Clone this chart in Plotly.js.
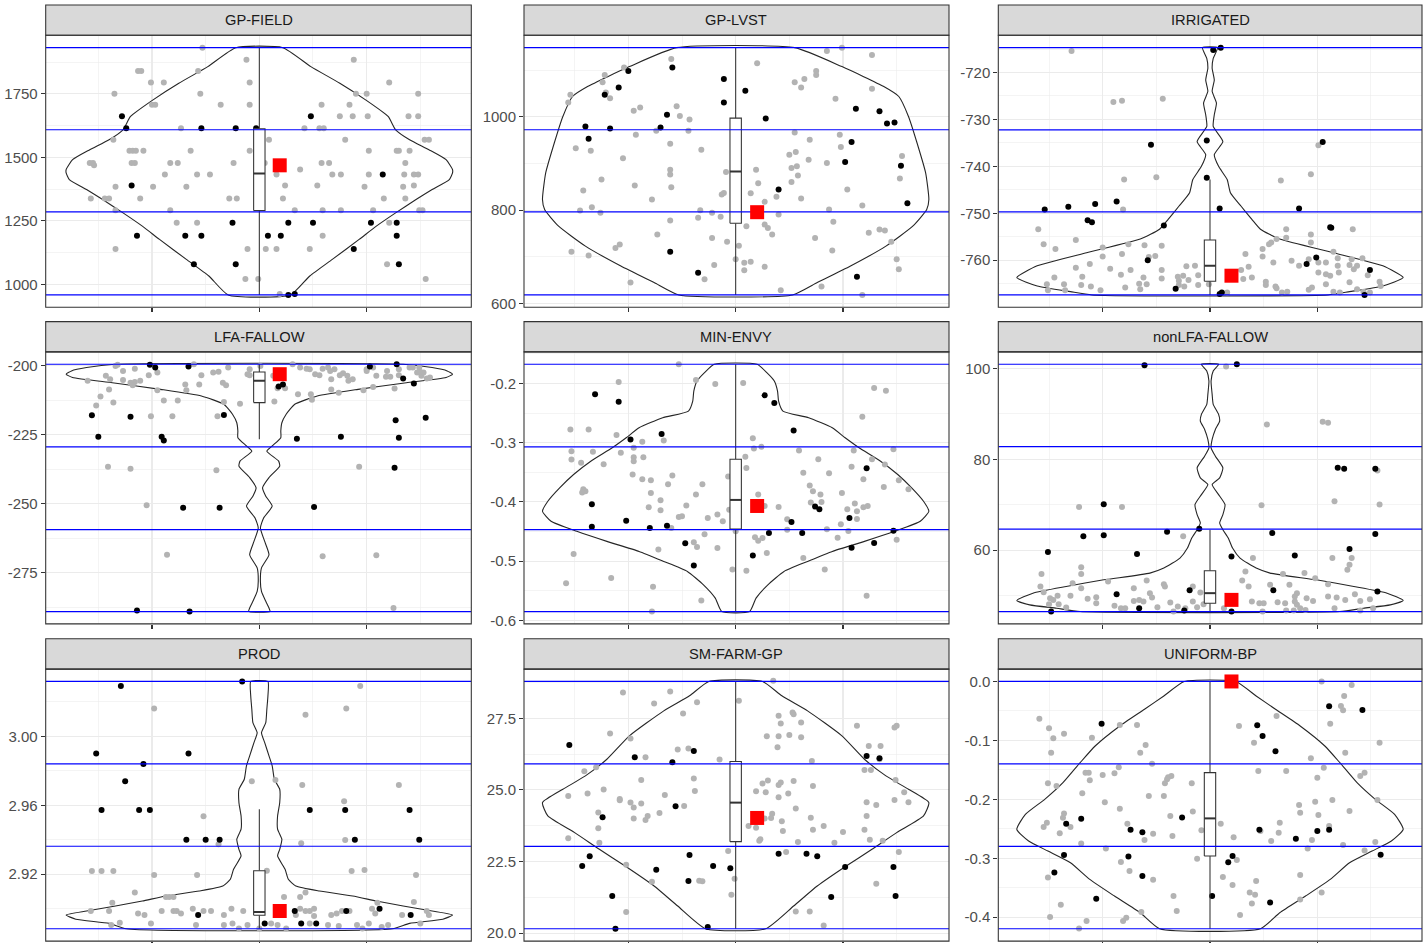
<!DOCTYPE html>
<html><head><meta charset="utf-8">
<script src="https://cdn.plot.ly/plotly-3.0.1.min.js"></script>
<style>html,body{margin:0;padding:0;background:#fff}#chart{width:1423px;height:943px}</style>
</head><body><div id="chart"></div>
<script>
// ---------------- DATA ----------------
const panelNames = ['GP-FIELD','GP-LVST','IRRIGATED','LFA-FALLOW','MIN-ENVY','nonLFA-FALLOW','PROD','SM-FARM-GP','UNIFORM-BP'];

// GP-FIELD
const gpFieldGrayX = [-0.53,-0.12,0.88,-1.13,-1.10,-0.57,-1.01,-0.89,-0.09,1.21,-1.35,-0.55,0.90,1.00,1.48,-1.00,-0.97,-0.36,-0.09,0.58,0.84,0.75,0.87,1.01,1.39,1.48,-0.73,0.42,0.56,0.60,-1.36,0.09,0.80,1.54,1.58,-1.21,-1.18,-1.15,-1.08,-0.64,-0.09,1.02,1.28,1.30,1.40,-1.58,-1.55,-1.54,-1.19,-1.16,-0.83,-0.76,-0.24,0.05,0.58,0.65,1.36,-0.88,-0.58,-0.46,0.16,0.38,0.68,0.76,1.02,1.35,1.44,1.48,-1.34,-0.99,-0.68,0.24,0.54,0.98,1.34,1.44,-1.57,-1.44,-1.40,-1.11,-0.28,-0.21,0.22,1.16,1.36,-1.34,-0.83,0.33,0.59,0.76,1.06,1.49,1.52,-0.77,-0.58,1.21,0.59,-1.34,-0.11,0.06,0.16,0.47,1.19,-0.13,-0.01,1.55,0.19];
const gpFieldGrayY = [1932,1884,1884,1840,1840,1840,1795,1795,1795,1795,1750,1750,1750,1750,1750,1707,1707,1707,1707,1707,1707,1662,1662,1662,1662,1662,1615,1615,1615,1615,1569,1569,1569,1569,1569,1526,1526,1526,1526,1526,1526,1526,1526,1526,1526,1478,1478,1469,1478,1478,1478,1478,1478,1478,1478,1478,1478,1432,1432,1432,1432,1452,1432,1432,1432,1432,1432,1432,1384,1384,1384,1389,1389,1384,1384,1389,1338,1338,1338,1338,1338,1338,1338,1338,1338,1292,1292,1292,1292,1292,1292,1292,1292,1242,1242,1242,1191,1139,1139,1139,1139,1139,1079,1021,1021,1021,962];
const gpFieldBlackX = [-1.28,-1.24,-0.54,-0.22,-0.03,0.48,-1.19,1.15,-0.25,0.27,0.50,1.04,1.28,-1.14,-0.69,-0.54,0.08,0.20,1.28,0.88,-0.61,-0.22,1.30,0.27,0.33];
const gpFieldBlackY = [1662,1615,1615,1615,1615,1662,1389,1432,1242,1242,1242,1242,1242,1191,1191,1191,1191,1191,1191,1139,1079,1079,1079,958,962];
const gpFieldViolinY = [1932,1857.4,1791.9,1726.5,1661.0,1608.6,1569.4,1530.1,1490.8,1451.6,1438.5,1412.3,1373.0,1333.8,1281.4,1229.1,1176.7,1098.1,1032.7,958.1];
const gpFieldViolinW = [0.22,0.48,0.75,0.99,1.20,1.27,1.40,1.58,1.74,1.80,1.80,1.77,1.61,1.46,1.27,1.09,0.93,0.68,0.47,0.29];
const gpFieldBox = [958.1,1290.6,1435.9,1612.6,1932];   // lower, q1, median, q3, upper
const gpFieldRef = [0.19,1468.6];
const gpFieldLines = [958.1,1285.3,1608.6,1932.0];
const gpFieldTicks = [1000,1250,1500,1750];
const gpFieldTickText = ['1000','1250','1500','1750'];
const gpFieldMinor = [1125,1375,1625,1875];

// GP-LVST
const gpLvstGrayX = [0.85,0.99,1.27,-0.60,0.20,-1.04,-1.22,0.75,0.75,-1.24,0.55,0.64,0.61,1.27,-1.54,-1.56,-1.21,-1.17,0.93,-0.95,-0.89,-0.55,-0.52,-0.43,-0.74,-0.44,-0.93,0.55,0.69,0.97,-0.61,0.98,-1.49,-1.35,-0.32,0.56,0.50,-1.05,0.68,0.85,-0.61,-0.61,0.19,-0.09,1.55,1.53,0.52,0.57,0.58,0.21,0.52,-0.94,-1.25,-0.60,-1.42,1.04,-0.11,-0.13,0.14,0.38,0.61,-0.78,0.27,1.18,-1.45,-1.34,-1.26,-0.33,-0.22,-0.14,-0.35,-0.61,0.87,0.91,0.40,0.10,0.27,0.30,0.34,1.24,1.34,1.39,1.45,-0.73,-0.22,-0.08,0.74,0.03,-1.53,-1.37,-1.12,-1.08,0.90,0.00,0.08,0.14,0.08,0.27,-0.20,1.50,1.52,-0.98,-0.29,0.42,0.80,1.18];
const gpLvstGrayY = [1140.9,1148,1132.4,1123.8,1114.6,1105.3,1089.7,1098.2,1089.7,1074.0,1074.0,1081.1,1062.6,1059.8,1047.0,1030.6,1051.9,1039.8,1038.4,1012.8,1019.9,1022.8,1001.4,994.3,970.1,970.1,961.6,966.5,950.9,961.6,942.3,935.2,932.4,927.4,929.5,924.5,918.9,911.0,908.2,901.1,886.8,876.2,886.8,881.8,916.0,867.6,890.4,893.9,874.0,857.6,860.5,852.7,865.5,849.1,842.0,844.1,837.0,833.4,836.3,828.5,824.9,822.8,817.8,810.0,799.3,806.4,794.3,800.0,794.3,785.8,783.6,777.9,801.4,775.1,790.7,765.8,769.4,761.6,748.0,751.6,758.7,756.6,732.4,748.0,740.2,732.4,740.2,723.8,711.0,703.2,718.9,726.7,713.9,694.7,687.6,689.7,671.2,679.0,682.6,694.7,673.3,644.9,651.9,628.5,636.3,618.5];
const gpLvstBlackX = [-1.00,-0.59,-0.11,-1.09,-1.22,0.09,-0.11,-0.64,-1.40,-0.70,-1.17,-1.37,0.28,1.12,1.34,1.41,1.48,1.08,1.02,1.54,0.40,1.60,-0.61,-0.35,1.13];
const gpLvstBlackY = [1098.2,1105.3,1081.1,1062.6,1047.0,1055.5,1030.6,1004.3,979.3,977.2,975.1,953.0,996.4,1017.1,1012.1,985.8,987.9,945.9,903.2,895.4,844.1,814.9,711.0,666.2,657.7];
const gpLvstViolinY = [1148,1107.4,1064.7,1043.4,1000.7,943.8,879.7,822.8,801.4,765.8,723.1,680.4,644.9,618.5];
const gpLvstViolinW = [0.55,0.99,1.38,1.52,1.61,1.69,1.77,1.80,1.78,1.65,1.40,1.07,0.76,0.53];
const gpLvstBox = [618.5,772.2,882.6,997.1,1148];
const gpLvstRef = [0.20,795.7];
const gpLvstLines = [618.5,796.4,972.2,1148];
const gpLvstTicks = [600,800,1000];
const gpLvstTickText = ['600','800','1000'];
const gpLvstMinor = [700,900,1100];

// IRRIGATED
const irrGrayX = [-1.29,-0.90,-0.82,-0.44,1.01,-0.50,-0.80,0.94,0.66,-0.81,-1.60,0.71,1.33,0.94,-1.55,-1.25,-1.44,-0.76,-0.61,-0.45,-1.00,0.71,0.62,0.57,0.55,0.49,-1.00,-0.82,-0.51,0.33,0.49,0.94,0.92,1.01,1.15,1.19,1.32,1.42,-1.25,-1.12,-0.93,-0.74,-0.45,-0.22,-0.14,-0.57,0.29,0.36,0.59,0.76,0.83,1.08,1.19,1.30,1.37,-1.19,-0.83,-0.62,-0.45,-0.30,-0.25,-0.11,0.31,0.39,1.01,1.08,1.12,1.20,1.34,1.47,-1.52,-1.45,-1.36,-1.20,-1.11,-1.02,-0.79,-0.66,-0.59,-0.65,-1.51,-1.35,-0.29,-0.11,-0.01,0.16,0.52,0.52,0.62,0.67,0.72,0.95,0.92,1.08,1.15,1.30,1.37,1.58,1.59,1.49,1.43,1.21,-0.24,-0.20,-0.29,0.61];
const irrGrayY = [-715.4,-726.3,-726.0,-725.6,-735.5,-742.3,-742.8,-741.7,-743.0,-749.2,-753.4,-753.4,-753.4,-754.5,-756.6,-755.7,-757.6,-756.6,-756.8,-756.9,-757.3,-755.2,-755.5,-756.2,-756.6,-757.6,-759.2,-758.7,-759.1,-758.7,-759.2,-756.2,-759.8,-760.5,-758.2,-759.6,-759.8,-759.6,-761.6,-760.8,-761.8,-762.1,-762.1,-761.3,-761.2,-759.3,-762.1,-761.4,-760.5,-760.1,-761.2,-760.5,-761.2,-761.0,-761.2,-763.5,-763.1,-763.7,-763.9,-763.5,-763.3,-763.2,-764.0,-763.7,-762.6,-763.0,-763.3,-762.6,-761.9,-763.2,-765.1,-763.7,-765.1,-765.3,-765.6,-766.4,-765.8,-765.0,-765.1,-766.2,-766.4,-766.4,-765.3,-765.3,-765.1,-766.9,-764.6,-765.3,-766.0,-766.9,-766.7,-765.8,-766.3,-765.1,-766.7,-764.7,-766.2,-764.6,-765.5,-766.9,-766.7,-766.9,-765.6,-764.2,-764.4,-765.6];
const irrBlackX = [0.03,0.10,-0.55,-0.03,1.05,-0.03,-1.54,-1.32,-1.07,-0.87,-1.14,-1.10,0.83,0.09,-0.43,1.12,1.13,-0.58,0.99,0.90,1.49,-0.32,0.09,0.11,1.44];
const irrBlackY = [-715.2,-714.7,-735.4,-734.5,-734.8,-742.4,-749.2,-748.6,-748.0,-747.5,-751.5,-751.9,-749.0,-749.0,-752.6,-753.0,-753.1,-760.0,-759.4,-760.8,-762.1,-766.1,-767.2,-766.9,-767.4];
const irrViolinY = [-714.7,-717.0,-719.1,-721.6,-724.0,-726.5,-729.0,-731.5,-734.7,-737.5,-740.0,-742.8,-745.6,-748.5,-751.3,-753.4,-755.5,-758.4,-761.2,-763.7,-765.5,-766.7,-767.4];
const irrViolinW = [0.07,0.03,0.02,0.04,0.02,0.06,0.04,0.03,0.12,0.04,0.08,0.16,0.19,0.29,0.39,0.47,0.65,1.15,1.61,1.80,1.61,1.30,1.10];
const irrBox = [-767.4,-764.5,-761.2,-755.7,-742.8];
const irrRef = [0.20,-763.3];
const irrLines = [-767.4,-749.7,-732.2,-714.7];
const irrTicks = [-760,-750,-740,-730,-720];
const irrTickText = ['-760','-750','-740','-730','-720'];
const irrMinor = [-765,-755,-745,-735,-725,-715];

// LFA-FALLOW
const lfaGrayX = [-1.34,-1.32,-1.27,-1.16,-1.03,-0.95,-1.43,-1.39,-1.60,-1.27,-1.20,-1.16,-1.11,-1.18,-1.40,-1.48,-1.52,-1.36,-0.95,-0.89,-0.76,-1.01,-0.81,-0.69,-0.68,-0.61,-0.54,-0.56,-0.43,-0.38,-0.29,-0.34,-0.31,-0.33,-0.18,-0.39,-0.11,-0.09,0.01,-0.09,0.13,0.17,0.14,0.31,0.38,0.44,0.47,0.36,0.48,0.49,0.64,0.66,0.70,0.75,0.78,0.82,0.67,0.83,0.87,0.67,0.74,0.97,1.06,1.00,1.09,1.19,1.22,1.26,1.30,1.40,1.49,1.51,1.56,1.59,1.50,1.43,0.52,0.59,0.56,1.00,1.06,1.18,1.30,1.47,1.53,0.24,-1.41,-1.20,-0.40,0.93,-1.05,-0.86,0.59,1.09,1.25];
const lfaGrayY = [-200.0,-199.6,-201.8,-201.0,-203.4,-202.4,-203.6,-204.8,-205.4,-205.1,-206.1,-205.8,-205.4,-207.0,-208.5,-211.1,-214.3,-213.3,-208.8,-212.5,-212.5,-218.2,-218.2,-206.7,-208.8,-199.4,-203.4,-206.7,-202.4,-202.1,-200.6,-206.1,-207.0,-213.1,-213.7,-218.2,-203.0,-201.2,-200.0,-203.4,-203.6,-208.1,-212.9,-199.4,-200.6,-201.0,-201.2,-210.3,-210.3,-212.3,-200.6,-201.8,-201.2,-203.4,-202.7,-203.6,-204.8,-205.4,-204.8,-208.5,-209.7,-208.8,-207.6,-201.2,-203.6,-201.8,-203.9,-208.2,-203.4,-200.6,-200.6,-203.6,-204.6,-204.2,-202.2,-200.6,-203.0,-201.0,-203.4,-201.8,-200.6,-203.9,-201.2,-202.4,-202.4,-208.1,-236.5,-237.3,-237.8,-236.5,-250.5,-268.4,-269.0,-268.6,-287.7];
const lfaBlackX = [-1.02,-0.97,-0.66,1.03,1.28,1.34,1.44,0.18,0.22,-1.56,-1.20,-0.33,-1.50,-0.91,-0.89,0.35,0.76,1.30,1.27,1.55,1.26,-0.71,-0.37,0.51,-1.14,-0.65];
const lfaBlackY = [-199.6,-200.6,-200.2,-200.2,-199.4,-204.6,-206.4,-207.5,-206.7,-217.9,-218.4,-217.8,-225.7,-225.7,-227.0,-226.4,-225.7,-226.0,-219.7,-218.8,-236.9,-251.4,-251.4,-251.1,-288.6,-289.0];
const lfaViolinY = [-199.4,-200.6,-201.8,-203.0,-204.2,-206.1,-208.5,-210.9,-213.9,-217.5,-220.6,-223.6,-226.0,-229.0,-230.9,-234.5,-236.3,-240.5,-244.2,-247.2,-250.8,-255.1,-258.7,-263.6,-268.4,-273.2,-278.0,-281.7,-285.3,-287.7,-289.0];
const lfaViolinW = [1.34,1.61,1.75,1.80,1.74,1.37,0.92,0.54,0.33,0.25,0.21,0.20,0.20,0.12,0.07,0.18,0.19,0.09,0.03,0.06,0.12,0.04,0.01,0.05,0.09,0.02,0.01,0.02,0.06,0.09,0.10];
const lfaBox = [-226.6,-213.3,-205.4,-202.2,-199.4];
const lfaRef = [0.19,-203.0];
const lfaLines = [-289.0,-259.3,-229.3,-199.4];
const lfaTicks = [-275,-250,-225,-200];
const lfaTickText = ['-275','-250','-225','-200'];
const lfaMinor = [-287.5,-262.5,-237.5,-212.5];

// MIN-ENVY
const minEnvyGrayX = [-0.53,-1.09,-0.37,-0.19,0.07,1.29,1.40,1.18,-1.54,-1.37,-1.11,-0.67,-0.87,0.16,-0.95,0.24,0.17,-1.53,-1.53,-1.33,-1.07,-0.95,-0.95,-0.86,-1.44,-1.23,0.59,1.10,1.47,0.77,1.27,0.09,0.10,1.39,-0.96,-0.87,-0.79,-0.59,-0.07,0.63,0.87,1.08,1.19,1.52,1.61,1.38,-0.63,-0.31,-0.37,-0.79,-0.70,-1.42,-1.40,-1.43,0.69,0.72,0.79,0.70,0.80,0.99,0.21,0.27,0.40,1.04,1.11,1.13,1.19,1.23,1.13,-0.81,-0.70,-0.46,-0.53,-0.50,-0.26,-0.17,-0.12,-0.06,-0.60,0.48,0.48,0.85,0.98,1.05,0.95,1.50,-0.39,-0.36,-0.17,-0.29,0.18,0.21,0.25,0.29,0.63,0.83,-1.51,-0.72,-0.03,0.10,-1.58,-1.16,-0.77,-0.32,-0.78,1.22,0.00];
const minEnvyGrayY = [-0.1676,-0.1975,-0.1941,-0.2009,-0.1992,-0.2077,-0.2122,-0.2562,-0.2776,-0.2776,-0.2872,-0.2962,-0.2985,-0.2923,-0.3086,-0.3069,-0.3098,-0.3143,-0.3284,-0.3154,-0.3171,-0.3244,-0.3312,-0.3244,-0.3340,-0.3363,-0.3131,-0.3131,-0.3109,-0.3278,-0.3278,-0.3239,-0.3425,-0.3368,-0.3537,-0.3616,-0.3633,-0.3554,-0.3571,-0.3509,-0.3515,-0.3408,-0.3616,-0.3633,-0.3786,-0.3746,-0.3701,-0.3701,-0.3876,-0.3848,-0.3972,-0.3786,-0.3820,-0.3842,-0.3724,-0.3820,-0.3876,-0.4011,-0.4000,-0.3848,-0.3876,-0.4068,-0.4085,-0.4124,-0.4028,-0.4158,-0.4090,-0.4068,-0.4288,-0.4090,-0.4141,-0.4062,-0.4254,-0.4243,-0.4271,-0.4214,-0.4327,-0.4130,-0.4440,-0.4293,-0.4468,-0.4462,-0.4378,-0.4491,-0.4603,-0.4637,-0.4682,-0.4761,-0.4778,-0.4547,-0.4598,-0.4654,-0.4609,-0.4863,-0.4948,-0.5139,-0.4880,-0.4801,-0.5139,-0.5162,-0.5371,-0.5286,-0.5433,-0.5664,-0.5850,-0.5585,-0.4496];
const minEnvyBlackX = [-1.31,-1.09,-0.98,-0.69,0.27,0.36,0.54,1.22,-1.34,-1.34,-1.02,-0.80,-0.64,0.74,0.78,1.06,0.52,-0.47,-0.39,0.31,0.62,0.16,1.08,1.29,1.47];
const minEnvyBlackY = [-0.2184,-0.2308,-0.2945,-0.2855,-0.2201,-0.2331,-0.2793,-0.3430,-0.4039,-0.4417,-0.4316,-0.4440,-0.4400,-0.4079,-0.4124,-0.4271,-0.4338,-0.4699,-0.5072,-0.4525,-0.4525,-0.4902,-0.4773,-0.4694,-0.4485];
const minEnvyViolinY = [-0.1676,-0.1817,-0.1958,-0.2128,-0.2297,-0.2466,-0.2579,-0.2748,-0.2917,-0.3086,-0.3312,-0.3537,-0.3763,-0.3989,-0.4158,-0.4327,-0.4496,-0.4666,-0.4835,-0.5004,-0.5173,-0.5399,-0.5624,-0.5850];
const minEnvyViolinW = [0.20,0.29,0.36,0.39,0.40,0.44,0.68,0.90,1.02,1.15,1.35,1.51,1.64,1.75,1.80,1.72,1.48,1.20,0.90,0.67,0.45,0.30,0.19,0.13];
const minEnvyBox = [-0.585,-0.4457,-0.3966,-0.3278,-0.1676];
const minEnvyRef = [0.20,-0.4068];
const minEnvyLines = [-0.585,-0.4468,-0.3069,-0.1676];
const minEnvyTicks = [-0.6,-0.5,-0.4,-0.3,-0.2];
const minEnvyTickText = ['-0.6','-0.5','-0.4','-0.3','-0.2'];
const minEnvyMinor = [-0.55,-0.45,-0.35,-0.25,-0.15];

// nonLFA-FALLOW
const nonLfaGrayX = [0.15,0.53,1.05,1.10,1.16,0.48,1.58,1.56,-1.22,-0.82,-0.25,0.40,1.14,1.32,1.30,1.28,-1.57,-1.20,-1.20,-1.58,-1.55,-1.28,-1.20,-0.95,-0.59,-0.71,-0.43,-0.42,0.33,0.30,0.36,0.68,0.88,0.98,1.10,0.56,0.74,0.81,0.90,-0.16,-0.09,-1.49,-1.46,-1.42,-1.30,-1.50,-1.41,-1.34,-1.14,-1.06,-1.06,-0.89,-0.83,-0.79,-0.71,-0.66,-0.62,-0.56,-0.54,-0.49,-0.37,-0.30,-0.34,-0.23,-0.16,-0.12,-0.06,0.13,0.39,0.46,0.50,0.49,0.63,0.71,0.70,0.79,0.81,0.84,0.89,0.96,1.10,1.18,1.26,1.35,1.40,1.49,1.52,1.16,1.40,0.78,0.79];
const nonLfaGrayY = [100.44,87.70,88.29,88.06,70.75,69.87,70.02,77.53,69.50,69.50,63.02,58.23,58.23,58.23,56.76,55.65,54.70,56.24,54.70,51.97,50.72,52.71,51.60,53.08,53.30,51.60,52.49,51.97,55.29,53.30,51.97,54.70,54.92,53.81,52.49,52.34,52.34,50.50,49.39,51.97,50.65,49.39,49.02,49.91,49.91,48.07,48.07,47.33,49.25,49.61,48.29,47.70,47.18,47.18,48.80,49.02,48.66,50.50,49.54,47.40,48.44,47.55,46.45,47.18,48.66,47.40,48.07,47.18,48.66,48.29,48.29,46.45,48.51,46.67,48.29,49.76,47.92,47.18,46.81,48.80,49.76,49.54,49.02,50.28,48.80,49.17,47.18,47.18,46.67,46.67,48.66];
const nonLfaBlackX = [-0.61,0.25,-1.51,-1.18,-0.99,-0.99,-0.68,-0.40,-0.10,0.58,0.79,1.19,1.25,1.54,1.54,1.30,0.20,-0.87,-0.19,0.59,1.56,-1.48,-0.66,-0.24,0.20];
const nonLfaBlackY = [100.73,100.96,59.56,63.02,70.09,63.24,59.12,64.05,64.71,63.76,58.82,78.12,77.90,77.90,63.54,60.22,58.60,50.28,51.16,51.16,50.87,46.45,47.18,46.67,46.45];
const nonLfaViolinY = [100.96,99.48,97.27,94.33,92.12,89.91,88.43,86.59,84.38,82.54,80.70,78.12,75.91,74.44,72.23,70.02,67.81,65.97,64.49,62.65,60.44,58.23,56.02,54.92,53.44,51.97,50.50,48.88,47.92,47.18,46.45];
const nonLfaViolinW = [0.08,0.03,0.01,0.02,0.03,0.08,0.09,0.05,0.02,0.01,0.05,0.12,0.09,0.02,0.08,0.14,0.12,0.09,0.12,0.17,0.21,0.28,0.43,0.56,0.99,1.34,1.65,1.80,1.68,1.43,1.21];
const nonLfaBox = [46.45,48.29,50.50,55.43,64.49];
const nonLfaRef = [0.20,49.02];
const nonLfaLines = [46.45,64.62,82.79,100.96];
const nonLfaTicks = [60,80,100];
const nonLfaTickText = ['60','80','100'];
const nonLfaMinor = [50,70,90];

// PROD
const prodGrayX = [0.94,-0.98,0.81,0.43,-0.07,0.15,0.40,1.30,0.79,-0.52,-0.38,0.39,0.80,-1.56,-1.47,-1.36,-0.98,-0.58,0.86,0.98,1.46,0.07,-1.16,-1.37,-0.87,-0.84,-0.80,0.23,0.38,0.43,1.10,1.44,-1.57,-1.40,-1.13,-1.07,-0.91,-0.80,-0.77,-0.73,-0.62,-0.52,-0.45,-0.33,-0.26,-0.15,0.38,0.43,0.47,0.51,0.51,0.67,0.72,0.77,0.84,1.05,1.08,1.33,1.56,1.58,-1.38,-1.30,-1.01,-0.59,-0.33,-0.25,-0.19,-0.11,0.00,0.11,0.17,0.25,0.47,0.64,0.74,0.91,0.96,1.02,1.14,1.20,1.50,0.34];
const prodGrayY = [3.0293,3.0162,3.0162,3.0125,2.9739,2.9747,2.9718,2.9718,2.9623,2.9536,2.9373,2.9379,2.9399,2.9218,2.9218,2.9218,2.9195,2.9195,2.9218,2.9224,2.9195,2.9220,2.9094,2.9034,2.9067,2.9067,2.9067,2.9067,2.9067,2.9094,2.9034,2.9038,2.8986,2.8986,2.8972,2.8963,2.8986,2.8986,2.8986,2.8972,2.8999,2.8986,2.8986,2.8963,2.8999,2.8986,2.8999,2.8986,2.8986,2.8999,2.8957,2.8963,2.8972,2.8986,2.8986,2.8999,2.8972,2.8963,2.8986,2.8963,2.8905,2.8918,2.8914,2.8905,2.8905,2.8914,2.8885,2.8905,2.8885,2.8914,2.8905,2.8885,2.8914,2.8905,2.8899,2.8905,2.8885,2.8914,2.8893,2.8905,2.8914,2.8963];
const prodBlackX = [-0.16,-1.29,-1.52,-0.66,-1.08,-1.25,-1.47,-1.12,-1.02,0.47,0.80,1.40,-0.68,-0.50,-0.37,0.89,1.49,-0.57,0.33,0.81,1.12,1.41,0.05,0.39,0.53];
const prodBlackY = [3.0319,3.0293,2.9900,2.9900,2.9840,2.9739,2.9573,2.9573,2.9573,2.9573,2.9573,2.9573,2.9400,2.9400,2.9400,2.9400,2.9400,2.8963,2.8986,2.8986,2.8999,2.8963,2.8914,2.8914,2.8914];
const prodViolinY = [3.0319,3.0235,3.0158,3.0080,3.0022,2.9964,2.9887,2.9829,2.9751,2.9693,2.9615,2.9538,2.9461,2.9402,2.9344,2.9306,2.9228,2.9170,2.9131,2.9102,2.9073,2.9044,2.9015,2.8986,2.8963,2.8938,2.8914,2.8883];
const prodViolinW = [0.08,0.08,0.07,0.06,0.02,0.05,0.09,0.12,0.14,0.19,0.19,0.17,0.17,0.21,0.19,0.17,0.24,0.27,0.34,0.56,0.87,1.09,1.34,1.61,1.80,1.71,1.40,1.24];
const prodBox = [2.8883,2.8961,2.8980,2.9220,2.9577];
const prodRef = [0.19,2.8986];
const prodLines = [2.8883,2.9362,2.9840,3.0319];
const prodTicks = [2.92,2.96,3.00];
const prodTickText = ['2.92','2.96','3.00'];
const prodMinor = [2.90,2.94,2.98,3.02];

// SM-FARM-GP
const smFarmGrayX = [0.35,-1.05,-0.61,-0.76,-0.36,0.03,-0.49,0.40,0.53,0.54,0.42,0.61,1.13,1.48,1.50,-1.17,-0.98,0.29,0.40,0.50,0.61,0.39,-0.54,-0.44,-0.84,-0.15,0.71,1.24,1.35,1.34,1.20,1.26,-1.30,-1.41,-0.88,-0.39,0.72,1.49,0.30,0.25,0.40,0.42,0.54,-1.23,-1.38,-1.56,-1.08,-1.08,-0.66,-0.38,0.19,0.28,0.40,0.49,1.57,1.48,1.61,1.22,1.31,-0.98,-0.95,-0.88,-0.48,-0.71,-0.82,-0.84,-0.95,-1.28,-1.28,-1.27,-1.56,0.34,0.33,0.27,0.56,0.70,0.43,0.44,0.12,0.19,0.22,0.23,0.72,0.82,1.00,1.20,1.25,1.22,1.37,0.92,0.58,1.52,0.47,-0.07,-0.01,-0.04,-0.34,-0.31,-0.78,-1.02,-1.02,0.56,0.69,0.82,1.31];
const smFarmGrayY = [28.808,28.400,28.435,28.016,28.063,28.109,27.667,27.585,27.702,27.643,27.317,27.352,27.236,27.178,27.236,26.968,26.793,26.875,26.875,26.921,26.840,26.491,26.409,26.444,26.141,26.060,26.013,26.537,26.537,26.071,25.699,25.699,25.792,25.652,25.349,25.396,25.140,25.349,25.326,25.221,25.175,25.256,25.314,25.012,24.872,24.790,24.686,24.639,24.825,24.965,24.953,24.918,24.744,24.872,24.918,24.651,24.569,24.569,24.476,24.557,24.383,24.523,24.441,24.197,24.092,23.952,23.999,24.208,23.661,23.160,23.312,24.173,24.022,23.999,24.348,24.033,23.905,23.568,23.742,23.684,23.230,23.277,23.614,23.742,23.533,23.614,23.265,24.092,23.230,23.160,23.183,22.834,22.834,22.869,21.902,21.344,21.833,21.809,21.798,22.392,20.738,20.761,20.761,20.272,21.728];
const smFarmBlackX = [-1.55,-0.94,-0.59,-0.39,1.22,1.34,-0.56,-1.24,-1.36,-1.43,-0.74,-0.43,-0.44,-0.21,-0.05,0.40,0.66,0.76,1.02,1.47,1.49,0.89,-1.15,-1.12,-0.26];
const smFarmBlackY = [26.572,26.141,25.966,26.362,26.188,26.106,24.429,24.045,22.683,22.345,22.217,22.729,21.821,22.345,22.263,22.776,22.776,22.683,22.310,22.310,21.297,21.262,21.297,20.156,20.214];
const smFarmViolinY = [28.785,28.284,27.760,26.886,26.071,25.489,25.023,24.557,24.092,23.509,22.927,22.345,21.646,20.948,20.156];
const smFarmViolinW = [0.25,0.43,0.67,0.99,1.20,1.40,1.61,1.80,1.75,1.50,1.27,1.03,0.76,0.54,0.28];
const smFarmBox = [20.156,23.195,24.557,25.99,28.785];
const smFarmRef = [0.20,24.022];
const smFarmLines = [20.156,23.032,25.908,28.785];
const smFarmTicks = [20,22.5,25,27.5];
const smFarmTickText = ['20.0','22.5','25.0','27.5'];
const smFarmMinor = [21.25,23.75,26.25,28.75];

// UNIFORM-BP
const uniGrayX = [1.04,1.32,1.25,1.22,1.24,1.12,0.62,0.27,-1.59,-1.50,-1.46,-1.36,-1.10,-0.84,-0.68,-1.48,-0.65,-0.60,1.58,1.26,0.41,0.94,-0.54,1.06,0.45,0.71,1.44,1.40,-1.13,-1.16,-1.00,-1.12,-0.89,-0.85,-0.39,-0.36,-0.40,-0.42,-1.51,-1.43,-1.19,-0.57,-0.43,-0.17,1.00,1.14,0.98,1.56,-0.98,-0.84,0.83,0.84,1.01,1.30,-0.16,-0.37,-1.36,-1.37,-1.52,-1.55,-1.40,-1.30,-0.77,-0.61,-0.53,-0.35,-0.08,0.10,0.47,0.64,0.57,0.22,0.65,1.11,1.24,1.54,1.44,0.95,0.91,-1.20,-0.97,-0.12,0.25,-0.83,-0.75,-0.53,0.12,0.43,0.84,0.21,0.37,0.42,0.39,1.04,0.84,-1.51,-1.39,-0.34,-0.31,-1.49,-1.15,-0.81,-0.78,-0.64,-1.22,0.28];
const uniGrayY = [0.0,-0.0059,-0.0246,-0.0416,-0.0489,-0.0716,-0.0586,-0.0755,-0.0631,-0.0795,-0.0965,-0.0885,-0.0953,-0.0738,-0.0738,-0.1208,-0.1208,-0.1078,-0.1038,-0.1208,-0.1038,-0.1304,-0.1395,-0.1462,-0.1519,-0.1519,-0.1547,-0.1604,-0.1547,-0.1547,-0.1587,-0.1677,-0.1559,-0.1457,-0.1627,-0.1604,-0.1661,-0.1728,-0.1728,-0.1774,-0.1898,-0.1943,-0.1943,-0.1728,-0.1632,-0.2011,-0.2040,-0.2011,-0.2051,-0.2158,-0.2096,-0.2226,-0.2266,-0.2198,-0.2204,-0.2283,-0.2238,-0.2311,-0.2396,-0.2470,-0.2577,-0.2470,-0.2413,-0.2690,-0.2583,-0.2622,-0.2526,-0.2413,-0.2538,-0.2566,-0.2707,-0.2645,-0.2396,-0.2453,-0.2775,-0.2724,-0.2866,-0.2690,-0.2832,-0.2747,-0.2832,-0.3007,-0.3030,-0.3064,-0.3216,-0.3364,-0.3318,-0.3386,-0.3284,-0.3454,-0.3579,-0.3618,-0.3765,-0.3579,-0.3697,-0.3324,-0.3788,-0.3641,-0.3895,-0.3997,-0.4065,-0.4065,-0.4009,-0.3912,-0.4190,-0.3963];
const uniBlackX = [-1.01,0.44,0.49,0.61,1.11,1.42,-1.34,-1.20,-0.74,-0.63,-0.26,0.46,0.80,1.00,1.11,1.59,0.21,0.17,-1.45,-1.36,-0.76,-0.63,-1.06,0.02,0.56];
const uniBlackY = [-0.0716,-0.0744,-0.0925,-0.1185,-0.0421,-0.0484,-0.2413,-0.2328,-0.2515,-0.2560,-0.2306,-0.2515,-0.2668,-0.2538,-0.2515,-0.2939,-0.2962,-0.3069,-0.3239,-0.2945,-0.2968,-0.3301,-0.3686,-0.3641,-0.3748];
const uniViolinY = [0.0,-0.0246,-0.0472,-0.0755,-0.1095,-0.1378,-0.1717,-0.2000,-0.2255,-0.2509,-0.2707,-0.2877,-0.3075,-0.3358,-0.3641,-0.3924,-0.4195];
const uniViolinW = [0.24,0.43,0.61,0.84,1.07,1.21,1.37,1.54,1.72,1.80,1.69,1.51,1.30,1.12,0.89,0.65,0.47];
const uniBox = [-0.4195,-0.2962,-0.2323,-0.1547,0.0];
const uniRef = [0.20,0.0];
const uniLines = [-0.4195,-0.2797,-0.1398,0.0];
const uniTicks = [-0.4,-0.3,-0.2,-0.1,0.0];
const uniTickText = ['-0.4','-0.3','-0.2','-0.1','0.0'];
const uniMinor = [-0.35,-0.25,-0.15,-0.05];

const xMajor = [-1,0,1];
const xMinor = [-1.5,-0.5,0.5,1.5];

// ---------------- BUILD ----------------
const panels = [
  [gpFieldGrayX,gpFieldGrayY,gpFieldBlackX,gpFieldBlackY,gpFieldViolinY,gpFieldViolinW,gpFieldBox,gpFieldRef,gpFieldLines,gpFieldTicks,gpFieldTickText,gpFieldMinor],
  [gpLvstGrayX,gpLvstGrayY,gpLvstBlackX,gpLvstBlackY,gpLvstViolinY,gpLvstViolinW,gpLvstBox,gpLvstRef,gpLvstLines,gpLvstTicks,gpLvstTickText,gpLvstMinor],
  [irrGrayX,irrGrayY,irrBlackX,irrBlackY,irrViolinY,irrViolinW,irrBox,irrRef,irrLines,irrTicks,irrTickText,irrMinor],
  [lfaGrayX,lfaGrayY,lfaBlackX,lfaBlackY,lfaViolinY,lfaViolinW,lfaBox,lfaRef,lfaLines,lfaTicks,lfaTickText,lfaMinor],
  [minEnvyGrayX,minEnvyGrayY,minEnvyBlackX,minEnvyBlackY,minEnvyViolinY,minEnvyViolinW,minEnvyBox,minEnvyRef,minEnvyLines,minEnvyTicks,minEnvyTickText,minEnvyMinor],
  [nonLfaGrayX,nonLfaGrayY,nonLfaBlackX,nonLfaBlackY,nonLfaViolinY,nonLfaViolinW,nonLfaBox,nonLfaRef,nonLfaLines,nonLfaTicks,nonLfaTickText,nonLfaMinor],
  [prodGrayX,prodGrayY,prodBlackX,prodBlackY,prodViolinY,prodViolinW,prodBox,prodRef,prodLines,prodTicks,prodTickText,prodMinor],
  [smFarmGrayX,smFarmGrayY,smFarmBlackX,smFarmBlackY,smFarmViolinY,smFarmViolinW,smFarmBox,smFarmRef,smFarmLines,smFarmTicks,smFarmTickText,smFarmMinor],
  [uniGrayX,uniGrayY,uniBlackX,uniBlackY,uniViolinY,uniViolinW,uniBox,uniRef,uniLines,uniTicks,uniTickText,uniMinor]
];

const W = 1423, H = 943;
const colLeft = [45.7, 524.0, 998.3];
const colRight = [471.3, 949.0, 1422.0];
const colCenter = [259.33, 735.67, 1210.0];
const unitPx = 107.33;
const stripTop = [5.0, 321.6, 638.8];
const stripH = 30.3;
const plotH = 272.0;
const boxHalf = 0.053;
const GRID = '#EBEBEB', DARK = '#333333';
const FONT = 'Liberation Sans, Arial, Helvetica, sans-serif';

const traces = [];
const layout = {
  width: W, height: H, margin: {l:0, r:0, t:0, b:0},
  paper_bgcolor: '#FFFFFF', plot_bgcolor: '#FFFFFF',
  showlegend: false, hovermode: false,
  shapes: [], annotations: []
};

panels.forEach((p, i) => {
  const [gx, gy, bx, by, vy, vw, box, ref, lines, ticks, tickText, minor] = p;
  const r = Math.floor(i / 3), c = i % 3;
  const k = i + 1;
  const xa = 'x' + k, ya = 'y' + k;
  const plotTop = stripTop[r] + stripH;
  const plotBot = plotTop + plotH;
  const xr = [(colLeft[c] - colCenter[c]) / unitPx, (colRight[c] - colCenter[c]) / unitPx];
  const lo = Math.min(...lines), hi = Math.max(...lines), pad = 0.05 * (hi - lo);
  const yr = [lo - pad, hi + pad];

  layout['xaxis' + k] = {
    domain: [colLeft[c] / W, colRight[c] / W], range: xr, anchor: ya,
    showgrid: true, gridcolor: GRID, gridwidth: 1.07, zeroline: false, showline: false,
    tickmode: 'array', tickvals: xMajor, showticklabels: false,
    ticks: 'outside', ticklen: 4, tickwidth: 1.07, tickcolor: DARK,
    minor: {tickmode: 'array', tickvals: xMinor, showgrid: true, gridcolor: GRID, gridwidth: 0.55, ticks: ''},
    fixedrange: true
  };
  layout['yaxis' + k] = {
    domain: [1 - plotBot / H, 1 - plotTop / H], range: yr, anchor: xa,
    showgrid: true, gridcolor: GRID, gridwidth: 1.07, zeroline: false, showline: false,
    tickmode: 'array', tickvals: ticks, ticktext: tickText,
    ticks: 'outside', ticklen: 4, tickwidth: 1.07, tickcolor: DARK,
    tickfont: {family: FONT, size: 15, color: '#4D4D4D'},
    minor: {tickmode: 'array', tickvals: minor, showgrid: true, gridcolor: GRID, gridwidth: 0.55, ticks: ''},
    fixedrange: true
  };

  // violin outline (white fill, closed polygon)
  const vx = vw.concat(vw.slice().reverse().map(w => -w));
  const vyy = vy.concat(vy.slice().reverse());
  vx.push(vx[0]); vyy.push(vyy[0]);
  traces.push({type:'scatter', mode:'lines', x: vx, y: vyy, xaxis: xa, yaxis: ya,
    fill: 'toself', fillcolor: '#FFFFFF',
    line: {color: '#262626', width: 1.1, shape: 'spline', smoothing: 0.5}});

  // gray points
  traces.push({type:'scatter', mode:'markers', x: gx, y: gy, xaxis: xa, yaxis: ya,
    marker: {size: 6, color: '#B3B3B3'}});
  // black points
  traces.push({type:'scatter', mode:'markers', x: bx, y: by, xaxis: xa, yaxis: ya,
    marker: {size: 6, color: '#000000'}});

  // box plot from its statistics
  const [lower, q1, med, q3, upper] = box;
  traces.push({type:'scatter', mode:'lines', xaxis: xa, yaxis: ya,
    x: [0, 0, null, 0, 0], y: [q3, upper, null, q1, lower],
    line: {color: DARK, width: 1.07}});
  traces.push({type:'scatter', mode:'lines', xaxis: xa, yaxis: ya,
    x: [-boxHalf, boxHalf, boxHalf, -boxHalf, -boxHalf], y: [q1, q1, q3, q3, q1],
    fill: 'toself', fillcolor: '#FFFFFF', line: {color: DARK, width: 1.07}});
  traces.push({type:'scatter', mode:'lines', xaxis: xa, yaxis: ya,
    x: [-boxHalf, boxHalf], y: [med, med], line: {color: DARK, width: 2}});

  // blue horizontal reference lines
  const lx = [], ly = [];
  lines.forEach(v => { lx.push(xr[0], xr[1], null); ly.push(v, v, null); });
  traces.push({type:'scatter', mode:'lines', x: lx, y: ly, xaxis: xa, yaxis: ya,
    line: {color: '#0000FF', width: 1.2}});

  // red square
  traces.push({type:'scatter', mode:'markers', x: [ref[0]], y: [ref[1]], xaxis: xa, yaxis: ya,
    marker: {symbol: 'square', size: 14, color: '#FF0000', line: {width: 0}}, cliponaxis: false});

  // strip
  layout.shapes.push({type:'rect', xref:'paper', yref:'paper', layer:'above',
    x0: colLeft[c] / W, x1: colRight[c] / W, y0: 1 - (stripTop[r] + stripH) / H, y1: 1 - stripTop[r] / H,
    fillcolor: '#D9D9D9', line: {color: DARK, width: 1.07}});
  layout.annotations.push({xref:'paper', yref:'paper', x: colCenter[c] / W, y: 1 - (stripTop[r] + stripH / 2) / H,
    text: panelNames[i], showarrow: false, xanchor: 'center', yanchor: 'middle',
    font: {family: FONT, size: 14.7, color: '#1A1A1A'}});
  // panel border
  layout.shapes.push({type:'rect', xref:'paper', yref:'paper', layer:'above',
    x0: colLeft[c] / W, x1: colRight[c] / W, y0: 1 - plotBot / H, y1: 1 - plotTop / H,
    fillcolor: 'rgba(0,0,0,0)', line: {color: DARK, width: 1.07}});
});

Plotly.newPlot('chart', traces, layout, {displayModeBar: false, staticPlot: true});
</script>
</body></html>
